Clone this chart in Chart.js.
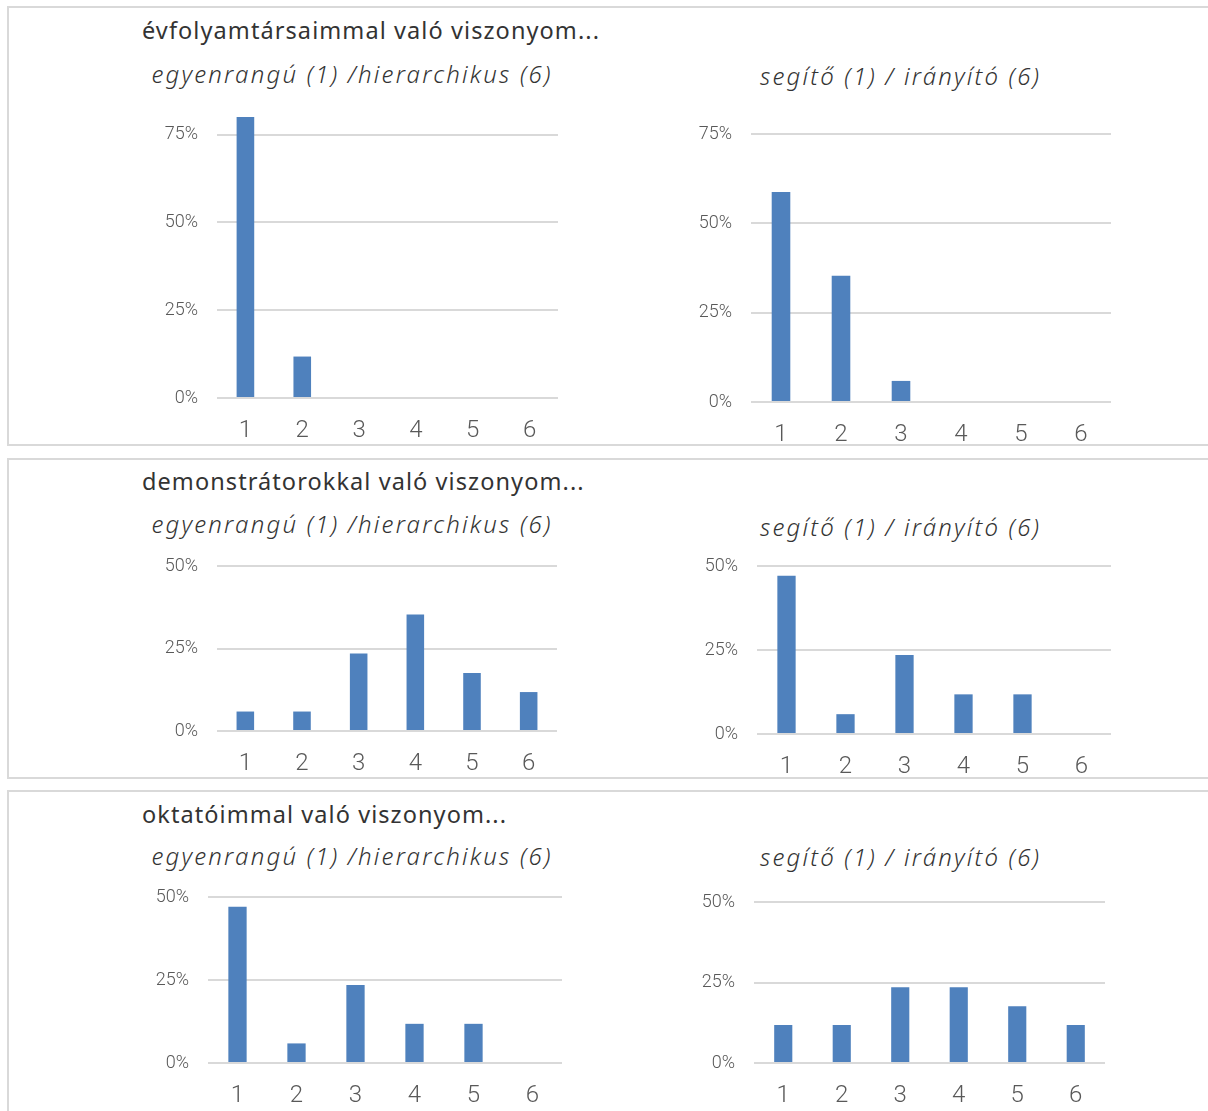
<!DOCTYPE html>
<html lang="hu">
<head>
<meta charset="utf-8">
<title>Viszonyok</title>
<script src="https://cdn.jsdelivr.net/npm/chart.js@4.4.1/dist/chart.umd.min.js"></script>
<style>
  html, body { margin: 0; padding: 0; background: #fff; overflow: hidden; }
  #page { position: relative; width: 1208px; height: 1111px; overflow: hidden; }
  #frame { position: absolute; left: 0; top: 0; }
  canvas { position: absolute; }
</style>
</head>
<body>
<div id="page">
  <svg id="frame" width="1208" height="1111" xmlns="http://www.w3.org/2000/svg"></svg>
</div>
<script>
// Answer categories on the 1–6 scale
const categories = ['1', '2', '3', '4', '5', '6'];

// Share of respondents (%) per category
const peersEqualHier   = [80, 11.8, 0, 0, 0, 0];
const peersHelpDirect  = [58.8, 35.3, 5.9, 0, 0, 0];
const demosEqualHier   = [5.9, 5.9, 23.5, 35.3, 17.6, 11.8];
const demosHelpDirect  = [47.1, 5.9, 23.5, 11.8, 11.8, 0];
const tutorsEqualHier  = [47.1, 5.9, 23.5, 11.8, 11.8, 0];
const tutorsHelpDirect = [11.8, 11.8, 23.5, 23.5, 17.6, 11.8];

// Value-axis tick labels (%)
const yTickValues = [0, 25, 50, 75];

// Group headings and the two scale descriptions
const groupTitles = [
  'évfolyamtársaimmal való viszonyom...',
  'demonstrátorokkal való viszonyom...',
  'oktatóimmal való viszonyom...'
];
const scaleLabels = ['egyenrangú (1) /hierarchikus (6)', 'segítő (1) / irányító (6)'];

// ---- layout ----
const BAR_COLOR = '#4f81bd';
const GRID_COLOR = '#d9d9d9';
const TICK_COLOR = '#595959';
const Y_AXIS_W = 70, PAD_TOP = 40, PAD_RIGHT = 10, X_AXIS_H = 50;

// plot box of each chart: left, right, top (= axis max), bottom (= 0%)
const charts = [
  { data: peersEqualHier,   max: 80, box: [217, 558, 117, 398] },
  { data: peersHelpDirect,  max: 75, box: [751, 1111, 134, 402] },
  { data: demosEqualHier,   max: 50, box: [217, 557, 566, 731] },
  { data: demosHelpDirect,  max: 50, box: [757, 1111, 566, 734] },
  { data: tutorsEqualHier,  max: 50, box: [208, 562, 897, 1063] },
  { data: tutorsHelpDirect, max: 50, box: [754, 1105, 902, 1063] }
];

// panel frames: top, height
const panels = [[7, 438], [459, 319], [791, 400]];
const titleBaselines = [38.7, 490, 822.5];
const titleWidths = [457, 441.6, 364];
const subBaselines = [[82.5, 84.5], [533.3, 535.7], [865, 866]];
const subX = [151.4, 760];
const subWidths = [399, 279];

// ---- frames and headings ----
const svgNS = 'http://www.w3.org/2000/svg';
const svg = document.getElementById('frame');
function el(name, attrs, text) {
  const e = document.createElementNS(svgNS, name);
  for (const k in attrs) e.setAttribute(k, attrs[k]);
  if (text !== undefined) e.textContent = text;
  svg.appendChild(e);
  return e;
}
panels.forEach(([top, h], i) => {
  el('rect', { x: 8, y: top, width: 1300, height: h, fill: 'none', stroke: GRID_COLOR, 'stroke-width': 2 });
  el('text', {
    x: 142, y: titleBaselines[i], 'font-family': 'Noto Sans', 'font-size': 23.5, fill: '#333333',
    textLength: titleWidths[i], lengthAdjust: 'spacing'
  }, groupTitles[i]);
  scaleLabels.forEach((s, j) => {
    el('text', {
      x: subX[j], y: subBaselines[i][j], 'font-family': 'Noto Sans', 'font-size': 24,
      'font-style': 'italic', 'font-weight': 300, fill: '#333333',
      textLength: subWidths[j], lengthAdjust: 'spacing'
    }, s);
  });
});

// ---- bar charts ----
const page = document.getElementById('page');
charts.forEach(cfg => {
  const [l, r, t, b] = cfg.box;
  const cv = document.createElement('canvas');
  const w = (r - l) + Y_AXIS_W + PAD_RIGHT;
  const h = (b - t) + PAD_TOP + X_AXIS_H;
  cv.width = w; cv.height = h;
  cv.style.left = (l - Y_AXIS_W) + 'px';
  cv.style.top = (t - PAD_TOP) + 'px';
  cv.style.width = w + 'px';
  cv.style.height = h + 'px';
  page.appendChild(cv);

  new Chart(cv, {
    type: 'bar',
    data: {
      labels: categories,
      datasets: [{
        data: cfg.data,
        backgroundColor: BAR_COLOR,
        borderWidth: 0,
        barPercentage: 0.31,
        categoryPercentage: 1
      }]
    },
    options: {
      responsive: false,
      animation: false,
      devicePixelRatio: 1,
      layout: { padding: { top: PAD_TOP, right: PAD_RIGHT, bottom: 0, left: 0 } },
      plugins: { legend: { display: false }, tooltip: { enabled: false }, title: { display: false } },
      scales: {
        x: {
          grid: { display: false, drawTicks: false },
          border: { display: false },
          ticks: {
            color: TICK_COLOR, padding: 19,
            font: { family: 'Roboto', size: 24, weight: '300' }
          },
          afterFit: s => { s.height = X_AXIS_H; }
        },
        y: {
          min: 0, max: cfg.max,
          grid: { color: GRID_COLOR, lineWidth: 2, drawTicks: false },
          border: { display: false },
          ticks: {
            stepSize: 25, color: TICK_COLOR, padding: 19,
            font: { family: 'Roboto', size: 18, weight: '300' },
            callback: v => v + '%'
          },
          afterBuildTicks: s => { s.ticks = yTickValues.filter(v => v <= cfg.max).map(v => ({ value: v })); },
          afterFit: s => { s.width = Y_AXIS_W; }
        }
      }
    }
  });
});
</script>
</body>
</html>
